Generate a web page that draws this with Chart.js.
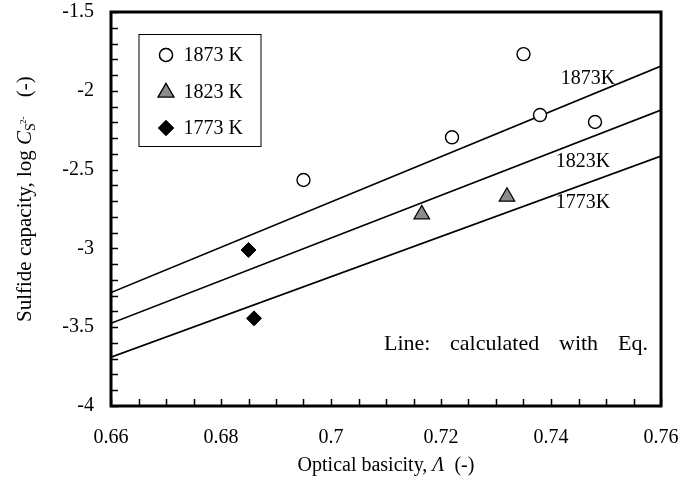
<!DOCTYPE html>
<html><head><meta charset="utf-8">
<script src="https://cdn.jsdelivr.net/npm/chart.js@4.4.0/dist/chart.umd.min.js"></script>
<style>html,body{margin:0;padding:0;background:#fff;} #wrap{width:682px;height:488px;position:relative;}</style>
</head><body><div id="wrap"><canvas id="c"></canvas></div>
<script>
// ---- data ----
const xTickLabels = ['0.66', '0.68', '0.7', '0.72', '0.74', '0.76'];
const yTickLabels = ['-4', '-3.5', '-3', '-2.5', '-2', '-1.5'];
const legendLabels = ['1873 K', '1823 K', '1773 K'];
const lineLabels = ['1873K', '1823K', '1773K'];

const basicity1873 = [0.695, 0.722, 0.735, 0.738, 0.748];
const logCs1873    = [-2.566, -2.295, -1.767, -2.154, -2.198];
const basicity1823 = [0.7165, 0.732];
const logCs1823    = [-2.784, -2.672];
const basicity1773 = [0.685, 0.686];
const logCs1773    = [-3.010, -3.444];

const lineBasicity = [0.66, 0.76];
const line1873 = [-3.28, -1.843];
const line1823 = [-3.475, -2.122];
const line1773 = [-3.69, -2.414];

// label anchor positions (data units) for line labels
const lineLabelX = [0.7467, 0.7458, 0.7458];
const lineLabelY = [-1.925, -2.452, -2.712];

const FONT = "'Liberation Serif', 'Times New Roman', serif";

function pts(xs, ys) { return xs.map((x, i) => ({x: x, y: ys[i]})); }

function findLabel(labels, v) {
  for (const l of labels) { if (Math.abs(parseFloat(l) - v) < 1e-6) return l; }
  return '';
}

const pointStyles = [
  {pointStyle: 'circle', pointRadius: 6.5, backgroundColor: '#ffffff', borderColor: '#000', pointBorderWidth: 1.4},
  {pointStyle: 'triangle', pointRadius: 9, backgroundColor: '#8c8c8c', borderColor: '#000', pointBorderWidth: 1.2},
  {pointStyle: 'rectRot', pointRadius: 7.5, backgroundColor: '#000000', borderColor: '#000', pointBorderWidth: 1}
];

const datasets = [
  Object.assign({label: legendLabels[0], data: pts(basicity1873, logCs1873), order: 0, showLine: false}, pointStyles[0]),
  Object.assign({label: legendLabels[1], data: pts(basicity1823, logCs1823), order: 0, showLine: false}, pointStyles[1]),
  Object.assign({label: legendLabels[2], data: pts(basicity1773, logCs1773), order: 0, showLine: false}, pointStyles[2]),
  {label: lineLabels[0], data: pts(lineBasicity, line1873), showLine: true, borderColor: '#000', borderWidth: 1.6, pointRadius: 0, order: 1},
  {label: lineLabels[1], data: pts(lineBasicity, line1823), showLine: true, borderColor: '#000', borderWidth: 1.6, pointRadius: 0, order: 1},
  {label: lineLabels[2], data: pts(lineBasicity, line1773), showLine: true, borderColor: '#000', borderWidth: 1.6, pointRadius: 0, order: 1}
];

const decor = {
  id: 'decor',
  afterDraw(chart) {
    const ctx = chart.ctx;
    const a = chart.chartArea;
    const xs = chart.scales.x, ys = chart.scales.y;
    ctx.save();
    // inward ticks
    ctx.strokeStyle = '#000';
    ctx.lineWidth = 1.5;
    ctx.beginPath();
    xs.ticks.forEach(t => {
      const px = Math.round(xs.getPixelForValue(t.value)) + 0.5;
      ctx.moveTo(px, a.bottom); ctx.lineTo(px, a.bottom - 7);
    });
    ys.ticks.forEach(t => {
      const py = Math.round(ys.getPixelForValue(t.value)) + 0.5;
      ctx.moveTo(a.left, py); ctx.lineTo(a.left + 7, py);
    });
    ctx.stroke();
    // frame
    ctx.lineWidth = 3;
    ctx.strokeRect(a.left, a.top, a.right - a.left, a.bottom - a.top);

    // legend box
    const lx = a.left + 27.5, ly = a.top + 22;
    ctx.lineWidth = 1;
    ctx.strokeRect(lx + 0.5, ly + 0.5, 122, 112);
    ctx.font = '20px ' + FONT;
    ctx.fillStyle = '#000';
    ctx.textBaseline = 'middle';
    ctx.textAlign = 'left';
    for (let i = 0; i < 3; i++) {
      const cy = ly + 21 + i * 36.5;
      const st = pointStyles[i];
      ctx.fillStyle = st.backgroundColor;
      ctx.strokeStyle = st.borderColor;
      ctx.lineWidth = st.pointBorderWidth;
      Chart.helpers.drawPoint(ctx, {pointStyle: st.pointStyle, radius: st.pointRadius, borderWidth: st.pointBorderWidth}, lx + 27.5, cy + (i === 1 ? 1 : 0));
      ctx.fill();
      ctx.stroke();
      ctx.fillStyle = '#000';
      ctx.fillText(legendLabels[i], lx + 45, cy + 1);
    }

    // line labels
    ctx.font = '20px ' + FONT;
    ctx.textAlign = 'center';
    for (let i = 0; i < 3; i++) {
      ctx.fillText(lineLabels[i], xs.getPixelForValue(lineLabelX[i]), ys.getPixelForValue(lineLabelY[i]));
    }

    // annotation
    ctx.font = '22px ' + FONT;
    ctx.textAlign = 'left';
    const words = ['Line:', 'calculated', 'with', 'Eq.'];
    const wx = [a.left + 273, a.left + 339, a.left + 448, a.left + 507];
    words.forEach((w, i) => ctx.fillText(w, wx[i], a.top + 332));

    // x title
    const cx = (a.left + a.right) / 2;
    const ty = 466;
    ctx.font = '20px ' + FONT;
    const p1 = 'Optical basicity, ', p2 = '\u039B', p3 = '  (-)';
    const w1 = ctx.measureText(p1).width;
    ctx.font = 'italic 20px ' + FONT;
    const w2 = ctx.measureText(p2).width;
    ctx.font = '20px ' + FONT;
    const w3 = ctx.measureText(p3).width;
    let sx = cx - (w1 + w2 + w3) / 2;
    ctx.fillText(p1, sx, ty);
    ctx.font = 'italic 20px ' + FONT;
    ctx.fillText(p2, sx + w1, ty);
    ctx.font = '20px ' + FONT;
    ctx.fillText(p3, sx + w1 + w2, ty);

    // y title (rotated), anchored at its lower end
    ctx.save();
    ctx.translate(25, 322);
    ctx.rotate(-Math.PI / 2);
    ctx.textBaseline = 'middle';
    const q1 = 'Sulfide capacity, log ', q2 = 'C', q3 = 'S', q4 = '2-', q5 = '  (-)';
    let s = 0;
    ctx.font = '21px ' + FONT; ctx.fillText(q1, s, 0); s += ctx.measureText(q1).width;
    ctx.font = 'italic 21px ' + FONT; ctx.fillText(q2, s, 0); s += ctx.measureText(q2).width;
    ctx.font = '14px ' + FONT; ctx.fillText(q3, s, 6); const v3 = ctx.measureText(q3).width;
    ctx.font = '9px ' + FONT; ctx.fillText(q4, s + v3 - 1, -1); s += v3 + ctx.measureText(q4).width + 8;
    ctx.font = '21px ' + FONT; ctx.fillText(q5, s, 0);
    ctx.restore();

    ctx.restore();
  }
};

new Chart(document.getElementById('c'), {
  type: 'scatter',
  data: {datasets: datasets},
  options: {
    responsive: true,
    maintainAspectRatio: false,
    animation: false,
    devicePixelRatio: 1,
    layout: {padding: {left: 0, top: 12, right: 21, bottom: 0}},
    plugins: {legend: {display: false}, tooltip: {enabled: false}},
    scales: {
      x: {
        type: 'linear', min: 0.66, max: 0.76,
        grid: {display: true, drawOnChartArea: false, drawTicks: false},
        border: {display: false},
        ticks: {
          stepSize: 0.005, autoSkip: false, maxRotation: 0, minRotation: 0, padding: 20,
          color: '#000', font: {family: FONT, size: 20},
          callback: v => findLabel(xTickLabels, v)
        },
        afterFit: s => { s.height = 82; s.paddingLeft = 0; s.paddingRight = 0; }
      },
      y: {
        type: 'linear', min: -4, max: -1.5,
        grid: {display: true, drawOnChartArea: false, drawTicks: false},
        border: {display: false},
        ticks: {
          stepSize: 0.1, autoSkip: false, padding: 17,
          color: '#000', font: {family: FONT, size: 20},
          callback: v => findLabel(yTickLabels, v)
        },
        afterFit: s => { s.width = 111; s.paddingTop = 0; s.paddingBottom = 0; }
      }
    }
  },
  plugins: [decor]
});
</script>
</body></html>
